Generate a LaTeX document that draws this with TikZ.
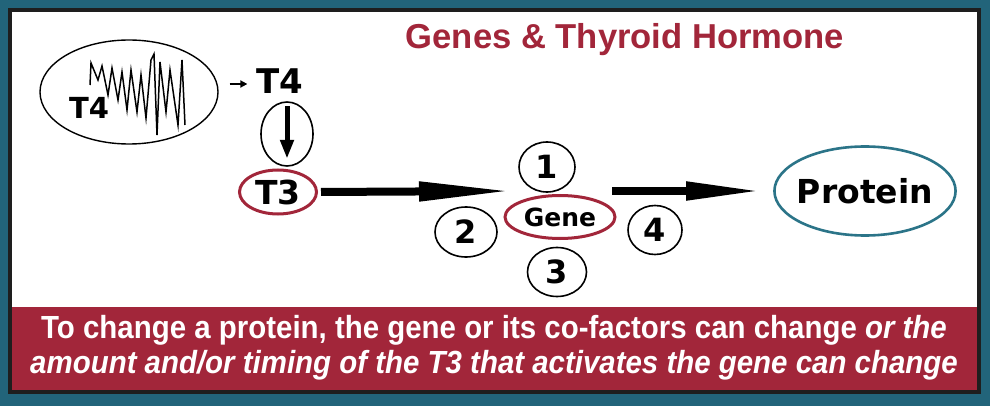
\documentclass[tikz,border=0pt]{standalone}
\usepackage{fontspec}
\setmainfont{Liberation Sans}
\newfontfamily\labelfont{DejaVu Sans}
\newfontfamily\bandfont{Liberation Sans}[FakeStretch=0.92]
\usepackage{tikz}
\usetikzlibrary{positioning,arrows.meta,shapes.geometric,calc}
\definecolor{tealbg}{HTML}{22647A}
\definecolor{tealring}{HTML}{2B7488}
\definecolor{wine}{HTML}{A2263A}
\definecolor{framegray}{HTML}{1E1E1E}
\tikzset{
  oval/.style={ellipse,draw,line width=1.6pt,inner sep=0pt,
               font=\labelfont\bfseries},
  redoval/.style={oval,draw=wine,line width=3pt},
  numring/.style={oval,minimum width=56pt,minimum height=50pt,
                  font=\labelfont\bfseries\fontsize{32}{32}\selectfont},
  hormone/.style={inner sep=0pt,font=\labelfont\bfseries\fontsize{34}{34}\selectfont},
  fatarrow/.style={-{Triangle[length=94pt,width=18pt]},line width=8pt},
  tinyarrow/.style={-{Triangle[length=7pt,width=7pt]},line width=2.5pt},
  downarrow/.style={-{Triangle[length=19pt,width=13pt]},line width=5pt},
}

\begin{document}
\begin{tikzpicture}[x=1pt,y=-1pt]
  % background and frame
  \fill[tealbg] (0,0) rectangle (990,406);
  \useasboundingbox (0,0) rectangle (990,406);
  \fill[white] (10,10) rectangle (979,392);
  \fill[wine] (11,307) rectangle (978,391);
  \draw[framegray,line width=3.5pt] (10,10) rectangle (979,392);

  \node[inner sep=0pt,text=wine,font=\bfseries\fontsize{34.6}{35}\selectfont]
    (title) at (625,40) {Genes \& Thyroid Hormone};

  % thyroid gland
  \node[oval,minimum width=178pt,minimum height=104pt,line width=1.4pt] (gland) at (129,92) {};
  \draw[line width=1.5pt,line join=miter]
    (90,85) -- (91,63) -- (98,80) -- (102,66) -- (108,95) -- (112,68)
    -- (118,100) -- (122,72) -- (127,110) -- (131,70) -- (137,112)
    -- (141,75) -- (146,118) -- (151,60) -- (154,54) -- (157,135)
    -- (160,62) -- (166,112) -- (170,70) -- (178,125) -- (182,60) -- (185,125);
  \node[inner sep=0pt,font=\labelfont\bfseries\fontsize{29}{29}\selectfont]
    (t4gland) at (89,108) {T4};

  \node[hormone] (t4) at (280,81) {T4};
  \node[oval,minimum width=52pt,minimum height=64pt] (deiod) at (287,134) {};
  \node[redoval,minimum width=77pt,minimum height=44pt,
        font=\labelfont\bfseries\fontsize{33}{33}\selectfont] (t3) at (278,192) {T3};

  % gene and its partners
  \node[redoval,minimum width=110pt,minimum height=43pt,
        font=\labelfont\bfseries\fontsize{25}{25}\selectfont] (gene) at (560,217) {Gene};
  \node[numring] (one) at (547,167) {1};
  \node[numring,minimum width=62pt] (two) at (466,232) {2};
  \node[numring,minimum width=59pt,minimum height=49pt] (three) at (557,272) {3};
  \node[numring,minimum width=54pt,minimum height=49pt] (four) at (655,230) {4};

  \node[oval,draw=tealring,line width=2.6pt,minimum width=176pt,minimum height=89pt,
        inner sep=-4pt,font=\labelfont\bfseries\fontsize{33}{33}\selectfont]
    (protein) at (865,191) {Protein};

  \coordinate (genein) at (513,191);
  \coordinate (geneout) at (612,191);

  \draw[tinyarrow] ([xshift=11pt,yshift=-3pt]gland.east |- t4.west)
    -- ([xshift=-9pt,yshift=-3pt]t4.west);
  \draw[downarrow,shorten <=5pt,shorten >=8pt] (deiod.north) -- (deiod.south);
  \draw[fatarrow,shorten <=3pt] (t3.east) -- (genein);
  \draw[-{Triangle[length=77pt,width=17pt]},line width=8pt,shorten >=10pt]
    (geneout) -- (protein.west);

  \node[inner sep=0pt,align=center,text=white,
        font=\bandfont\bfseries\fontsize{32}{35}\selectfont] (caption) at (494,348)
    {To change a protein, the gene or its co-factors can change \textit{or the}\\
     \textit{amount and/or timing of the T3 that activates the gene can change}};
\end{tikzpicture}
\end{document}
